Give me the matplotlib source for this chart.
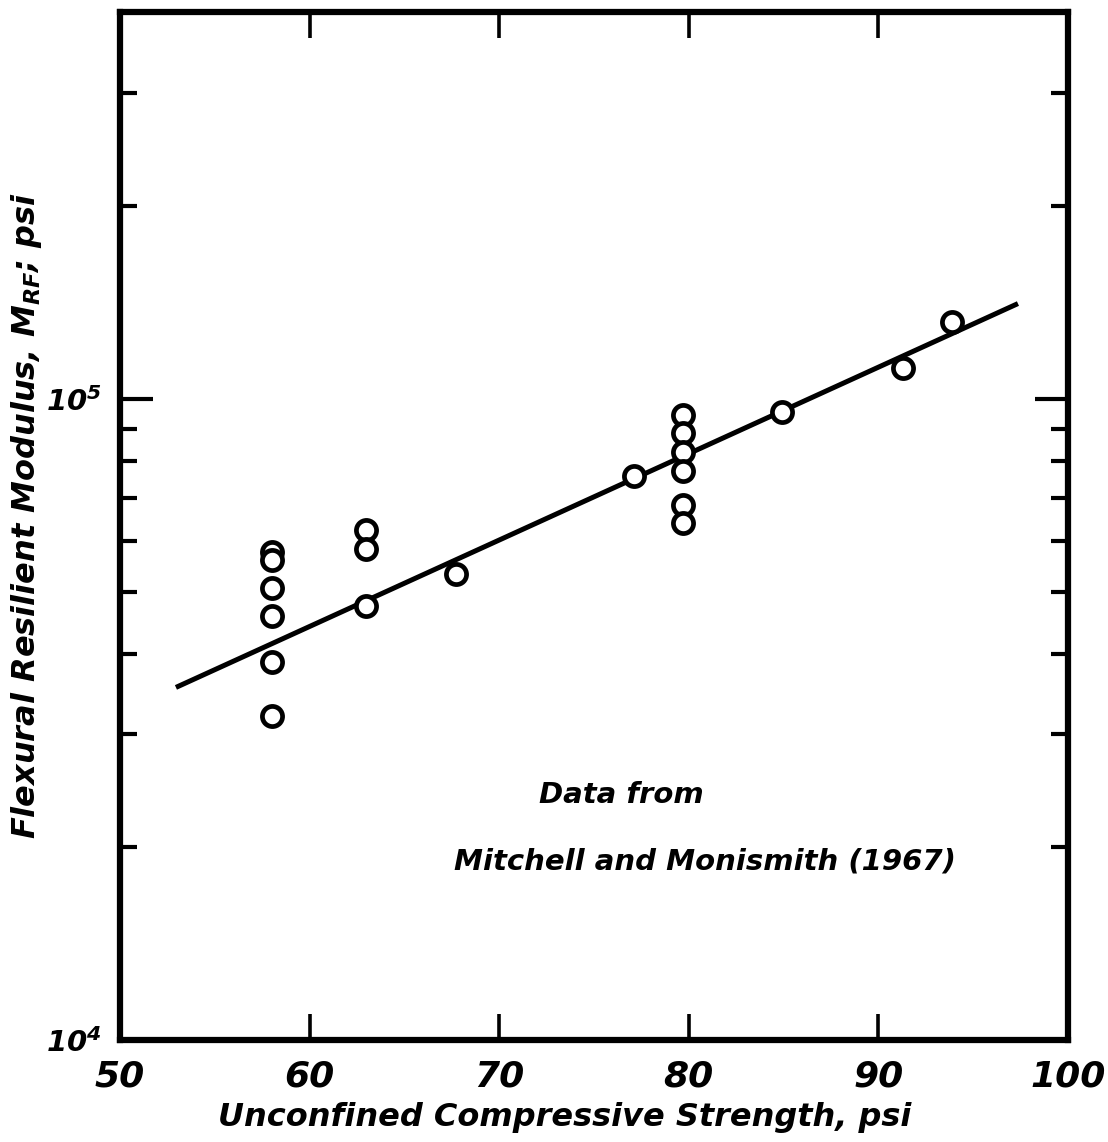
import matplotlib
matplotlib.use('Agg')
import matplotlib.pyplot as plt
from matplotlib.ticker import FixedLocator, NullFormatter

# ---- data ----
strength = [58.0, 58.0, 58.0, 58.0, 58.0, 58.0,
            63.0, 63.0, 63.0,
            67.7,
            77.1,
            79.7, 79.7, 79.7, 79.7, 79.7, 79.7,
            84.9, 91.3, 93.9]
modulus = [5.78e4, 5.61e4, 5.07e4, 4.59e4, 3.89e4, 3.20e4,
           6.25e4, 5.83e4, 4.75e4,
           5.33e4,
           7.58e4,
           9.44e4, 8.87e4, 8.27e4, 7.72e4, 6.83e4, 6.40e4,
           9.54e4, 1.117e5, 1.318e5]
fit_strength = [52.95, 97.36]
fit_modulus = [3.55e4, 1.41e5]

x_ticks = [50, 60, 70, 80, 90, 100]
x_tick_labels = ['50', '60', '70', '80', '90', '100']
y_major = [1e4, 1e5]
y_major_labels = [r'$10^4$', r'$10^5$']
y_minor = [2e4, 3e4, 4e4, 5e4, 6e4, 7e4, 8e4, 9e4, 2e5, 3e5]

FONT = 'DejaVu Sans'
plt.rcParams['font.family'] = [FONT]
plt.rcParams['mathtext.fontset'] = 'custom'
plt.rcParams['mathtext.rm'] = FONT + ':italic:bold'
plt.rcParams['mathtext.it'] = FONT + ':italic:bold'
plt.rcParams['mathtext.bf'] = FONT + ':italic:bold'

fig = plt.figure(figsize=(11.08, 11.42), dpi=100)
ax = fig.add_axes([120 / 1108, 102 / 1142, 948 / 1108, 1028 / 1142])

ax.set_xscale('linear')
ax.set_yscale('log')
ax.set_xlim(50, 100)
ax.set_ylim(1e4, 4.02e5)

ax.plot(fit_strength, fit_modulus, color='black', lw=3.6, solid_capstyle='butt', zorder=2)
ax.plot(strength, modulus, linestyle='none', marker='o', markersize=14.5,
        markerfacecolor='white', markeredgecolor='black', markeredgewidth=3.4, zorder=3)

ax.set_xticks(x_ticks)
ax.set_xticklabels(x_tick_labels, fontsize=26, fontweight='bold', fontstyle='italic')
ax.yaxis.set_major_locator(FixedLocator(y_major))
ax.set_yticklabels(y_major_labels, fontsize=21)
ax.yaxis.set_minor_locator(FixedLocator(y_minor))
ax.yaxis.set_minor_formatter(NullFormatter())

ax.tick_params(axis='x', which='major', direction='in', length=19, width=2.6,
               top=True, bottom=True, pad=14)
ax.tick_params(axis='y', which='major', direction='in', length=24, width=3.0,
               left=True, right=True, pad=13)
ax.tick_params(axis='y', which='minor', direction='in', length=12, width=3.0,
               left=True, right=True)

for s in ax.spines.values():
    s.set_linewidth(4.5)

ax.set_xlabel('Unconfined Compressive Strength, psi', fontsize=23,
              fontweight='bold', fontstyle='italic')
ax.xaxis.set_label_coords(0.469, -0.060)
ax.set_ylabel(r'Flexural Resilient Modulus, $M_{RF}$; psi', fontsize=23,
              fontweight='bold', fontstyle='italic')
ax.yaxis.set_label_coords(-0.080, 0.51)

ax.text(72.1, 2.41e4, 'Data from', fontsize=21, fontweight='bold',
        fontstyle='italic', ha='left', va='center')
ax.text(67.6, 1.90e4, 'Mitchell and Monismith (1967)', fontsize=21,
        fontweight='bold', fontstyle='italic', ha='left', va='center')

fig.savefig('out.png', dpi=100, facecolor='white')
